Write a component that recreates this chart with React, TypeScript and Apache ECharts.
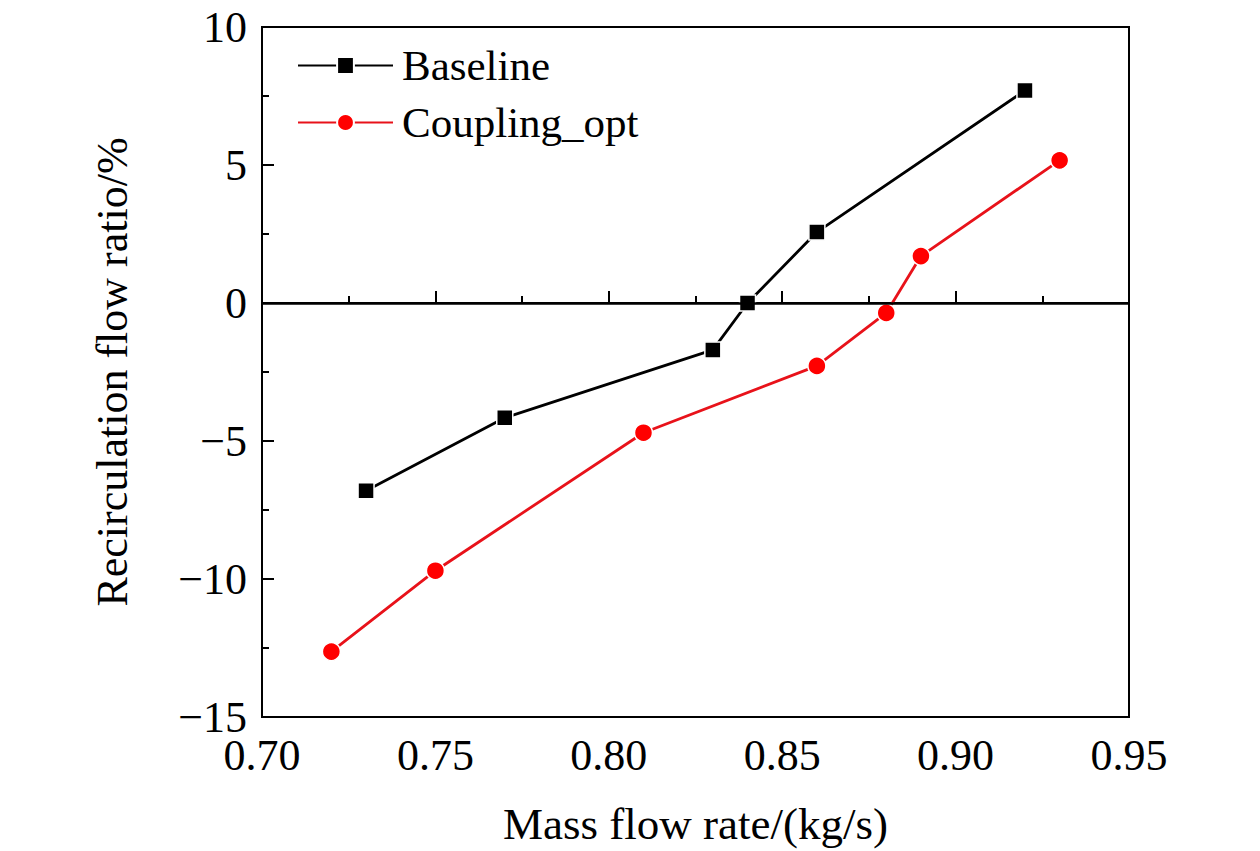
import React, { useEffect, useRef } from 'react'
import * as echarts from 'echarts'

const baselineX = [0.73, 0.77, 0.83, 0.84, 0.86, 0.92]
const baselineY = [-6.8, -4.16, -1.7, 0, 2.57, 7.7]
const couplingX = [0.72, 0.75, 0.81, 0.86, 0.88, 0.89, 0.93]
const couplingY = [-12.63, -9.7, -4.7, -2.28, -0.36, 1.7, 5.17]
const seriesNames = ['Baseline', 'Coupling_opt']

const FONT = '"Liberation Serif", "Times New Roman", serif'

const pairs = (xs: number[], ys: number[]) => xs.map((x, i) => [x, ys[i]])

const App = () => {
  const chartRef = useRef<HTMLDivElement>(null)

  useEffect(() => {
    document.body.style.margin = '0'
    if (!chartRef.current) return
    const chart = echarts.init(chartRef.current, null, { renderer: 'svg' })

    const option = {
      animation: false,
      backgroundColor: '#fff',
      textStyle: { fontFamily: FONT },
      grid: {
        left: 262,
        right: 131,
        top: 27,
        bottom: 133,
        show: true,
        borderColor: '#000',
        borderWidth: 2,
      },
      legend: {
        orient: 'vertical',
        left: 292,
        top: 38,
        itemWidth: 95,
        itemHeight: 21,
        itemGap: 12,
        data: seriesNames,
        textStyle: {
          fontFamily: FONT,
          fontSize: 43,
          color: '#000',
          lineHeight: 45,
          padding: [0, 0, 0, 4],
        },
      },
      xAxis: {
        type: 'value',
        min: 0.7,
        max: 0.95,
        interval: 0.05,
        name: 'Mass flow rate/(kg/s)',
        nameLocation: 'middle',
        nameGap: 84,
        nameTextStyle: { fontFamily: FONT, fontSize: 45, color: '#000' },
        axisLine: { show: true, lineStyle: { color: '#000', width: 2 } },
        axisTick: { show: true, inside: true, length: 12, lineStyle: { color: '#000', width: 2 } },
        minorTick: { show: true, splitNumber: 2, length: 7, lineStyle: { color: '#000', width: 2 } },
        axisLabel: {
          margin: 16,
          fontFamily: FONT,
          fontSize: 44,
          color: '#000',
          formatter: (v: number) => v.toFixed(2),
        },
        splitLine: { show: false },
      },
      yAxis: {
        type: 'value',
        min: -15,
        max: 10,
        interval: 5,
        name: 'Recirculation flow ratio/%',
        nameLocation: 'middle',
        nameGap: 128,
        nameTextStyle: { fontFamily: FONT, fontSize: 44, color: '#000' },
        axisLine: { show: true, lineStyle: { color: '#000', width: 2 } },
        axisTick: { show: true, inside: true, length: 12, lineStyle: { color: '#000', width: 2 } },
        minorTick: { show: true, splitNumber: 2, length: 7, lineStyle: { color: '#000', width: 2 } },
        axisLabel: {
          margin: 15,
          fontFamily: FONT,
          fontSize: 44,
          color: '#000',
          formatter: (v: number) => String(v).replace('-', '\u2212'),
        },
        splitLine: { show: false },
      },
      series: [
        {
          name: seriesNames[0],
          type: 'line',
          data: pairs(baselineX, baselineY),
          symbol: 'rect',
          symbolSize: 16,
          lineStyle: { color: '#000', width: 2.8 },
          itemStyle: { color: '#000', borderColor: '#fff', borderWidth: 1.5 },
          markLine: {
            silent: true,
            symbol: 'none',
            label: { show: false },
            lineStyle: { color: '#000', width: 2.5, type: 'solid' },
            data: [{ yAxis: 0 }],
          },
        },
        {
          name: seriesNames[1],
          type: 'line',
          data: pairs(couplingX, couplingY),
          symbol: 'circle',
          symbolSize: 18,
          lineStyle: { color: '#e8121a', width: 2.8 },
          itemStyle: { color: '#ff0000', borderColor: '#fff', borderWidth: 1.5 },
        },
      ],
    }

    chart.setOption(option)
    return () => {
      chart.dispose()
    }
  }, [])

  return <div ref={chartRef} style={{ width: 1260, height: 851 }} />
}

export default App
